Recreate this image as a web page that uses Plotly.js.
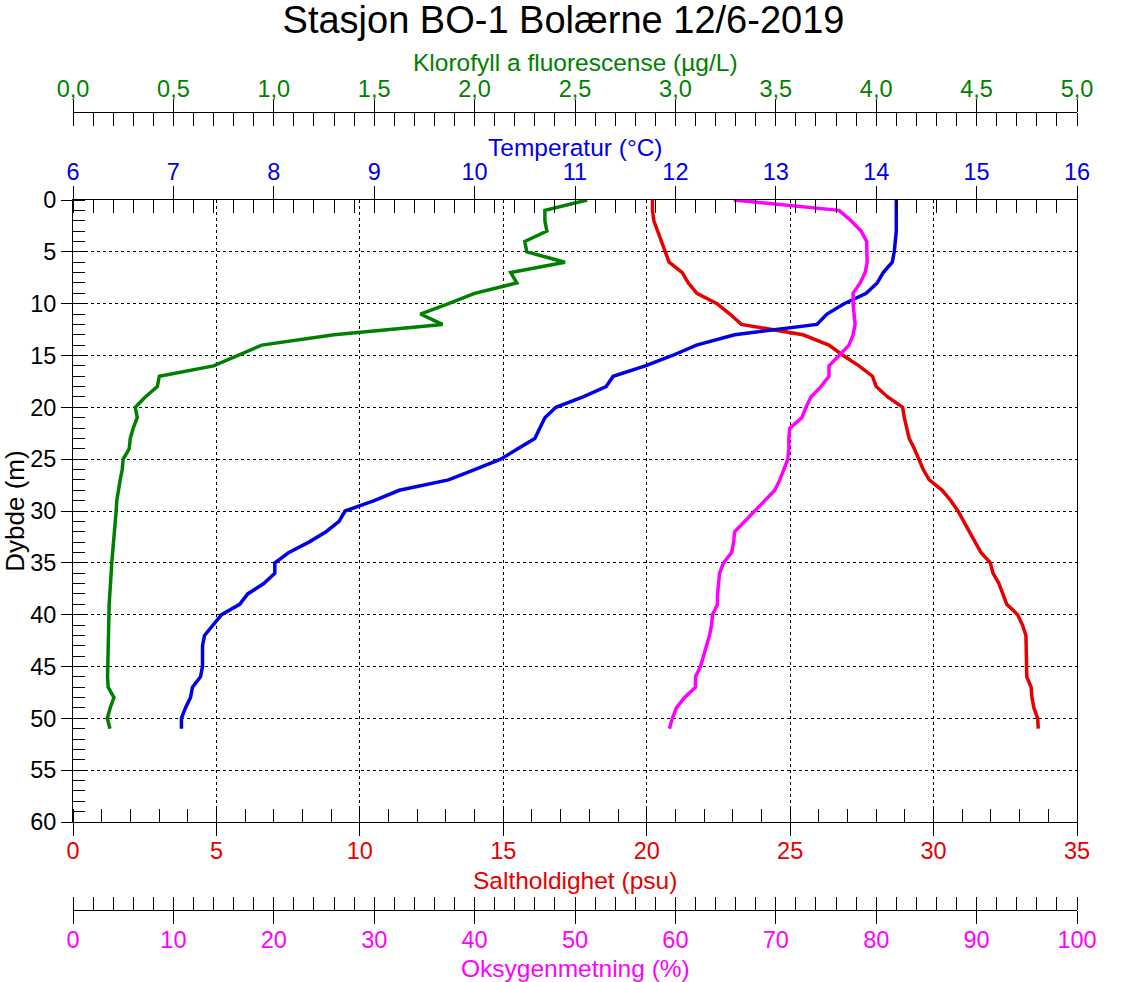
<!DOCTYPE html>
<html>
<head>
<meta charset="utf-8">
<script src="https://cdn.plot.ly/plotly-3.0.1.min.js"></script>
<style>
html,body{margin:0;padding:0;background:#fff;}
#chart{width:1127px;height:982px;}
</style>
</head>
<body>
<div id="chart"></div>
<script>
// Depth (m)
const depth = [0,1,2,3,4,5,6,7,8,9,10,11,12,13,14,15,16,17,18,19,20,21,22,23,24,25,26,27,28,29,30,31,32,33,34,35,36,37,38,39,40,41,42,43,44,45,46,47,48,49,50,51];
// Klorofyll a fluorescens (µg/L)
const klorofyll = [2.56,2.35,2.35,2.36,2.25,2.26,2.45,2.18,2.21,2.00,1.87,1.73,1.84,1.30,0.94,0.82,0.70,0.43,0.42,0.36,0.31,0.32,0.30,0.285,0.28,0.25,0.245,0.235,0.225,0.218,0.215,0.21,0.205,0.20,0.196,0.193,0.19,0.186,0.183,0.18,0.179,0.178,0.176,0.174,0.172,0.171,0.172,0.175,0.204,0.185,0.171,0.184];
// Temperatur (°C)
const temperatur = [14.20,14.20,14.20,14.20,14.19,14.18,14.16,14.07,14.01,13.90,13.68,13.51,13.41,12.59,12.21,11.97,11.70,11.38,11.31,11.08,10.81,10.70,10.65,10.60,10.43,10.26,10.00,9.74,9.25,9.00,8.71,8.65,8.52,8.35,8.15,8.01,8.01,7.90,7.74,7.66,7.48,7.40,7.31,7.29,7.29,7.29,7.27,7.19,7.17,7.12,7.08,7.08];
// Saltholdighet (psu)
const saltholdighet = [20.20,20.20,20.25,20.38,20.50,20.62,20.78,21.24,21.45,21.75,22.45,22.90,23.30,25.45,26.35,26.85,27.40,27.87,28.00,28.40,28.92,28.98,29.05,29.15,29.33,29.50,29.64,29.85,30.30,30.60,30.85,31.05,31.25,31.45,31.65,31.98,32.07,32.28,32.42,32.55,32.93,33.10,33.22,33.22,33.22,33.22,33.25,33.40,33.43,33.50,33.63,33.65];
// Oksygenmetning (%)
const oksygen = [65.8,76.3,77.5,78.5,79.05,79.1,79.1,78.9,78.4,77.7,77.7,77.8,77.9,77.7,77.3,76.3,75.3,75.3,74.5,73.5,73.0,72.6,71.4,71.3,71.3,71.2,70.8,70.4,69.9,68.9,67.9,66.9,65.9,65.8,65.6,64.8,64.4,64.3,64.2,64.2,63.7,63.6,63.4,63.1,62.8,62.5,62.0,62.0,60.9,60.1,59.7,59.4];

// Axis titles
const titles = {
  klorofyll: 'Klorofyll a fluorescense (µg/L)',
  temperatur: 'Temperatur (°C)',
  saltholdighet: 'Saltholdighet (psu)',
  oksygen: 'Oksygenmetning (%)',
  dybde: 'Dybde (m)'
};

const GREEN = '#008000', BLUE = '#0000e6', RED = '#e60000', MAG = '#ff00ff';
const FONT = '"Liberation Sans", Arial, sans-serif';
const TICKSZ = 23.5, TITLESZ = 24.5;

const H = 982, mt = 40, mb = 40;
const ph = H - mt - mb;
const yPix = p => (H - mb - p) / ph; // pixel row -> paper fraction

const traces = [
  {x: klorofyll, y: depth, xaxis: 'x3', yaxis: 'y', mode: 'lines', line: {color: GREEN, width: 3.5}, name: 'Klorofyll'},
  {x: temperatur, y: depth, xaxis: 'x2', yaxis: 'y', mode: 'lines', line: {color: BLUE, width: 3.5}, name: 'Temperatur'},
  {x: saltholdighet, y: depth, xaxis: 'x', yaxis: 'y', mode: 'lines', line: {color: RED, width: 3.5}, name: 'Saltholdighet'},
  {x: oksygen, y: depth, xaxis: 'x4', yaxis: 'y', mode: 'lines', line: {color: MAG, width: 3.5}, name: 'Oksygen'},
  {x: [], y: [], xaxis: 'x5', yaxis: 'y', mode: 'lines', hoverinfo: 'skip'},
  {x: [], y: [], xaxis: 'x6', yaxis: 'y', mode: 'lines', hoverinfo: 'skip'},
  {x: [], y: [], xaxis: 'x7', yaxis: 'y', mode: 'lines', hoverinfo: 'skip'}
];

const baseAx = {
  showline: true, linecolor: 'black', linewidth: 1,
  ticks: 'outside', ticklen: 13, tickwidth: 1, tickcolor: 'black',
  showgrid: false, zeroline: false, fixedrange: true
};

const ann = (text, color, py) => ({
  text: text, xref: 'paper', yref: 'paper', x: 0.5, y: yPix(py),
  xanchor: 'center', yanchor: 'middle', showarrow: false, borderpad: 0,
  font: {family: FONT, size: TITLESZ, color: color}
});

const layout = {
  width: 1127, height: 982,
  margin: {l: 73, r: 50, t: mt, b: mb},
  paper_bgcolor: 'white', plot_bgcolor: 'white',
  showlegend: false,
  separators: ',.',
  font: {family: FONT, size: TICKSZ, color: 'black'},
  title: {text: 'Stasjon BO-1 Bolærne 12/6-2019', font: {family: FONT, size: 38, color: 'black'},
          x: 0.5, xanchor: 'center', y: 1 - 20/H, yanchor: 'middle', yref: 'container'},
  annotations: [
    ann(titles.klorofyll, GREEN, 62),
    ann(titles.temperatur, BLUE, 147),
    ann(titles.saltholdighet, RED, 880),
    ann(titles.oksygen, MAG, 968)
  ],
  yaxis: Object.assign({}, baseAx, {
    domain: [yPix(822), yPix(200)],
    range: [60, 0], dtick: 5, tick0: 0, ticklen: 11,
    mirror: true,
    showgrid: true, gridcolor: 'black', gridwidth: 1, griddash: '3px,3px',
    minor: {dtick: 1, tick0: 0, ticks: 'inside', ticklen: 12, tickcolor: 'black', tickwidth: 1, showgrid: false},
    tickfont: {family: FONT, size: TICKSZ, color: 'black'},
    title: {text: titles.dybde, font: {family: FONT, size: 26, color: 'black'}, standoff: 4}
  }),
  xaxis: Object.assign({}, baseAx, {
    domain: [0, 1], range: [0, 35], dtick: 5, tick0: 0, side: 'bottom', anchor: 'y',
    showgrid: true, gridcolor: 'black', gridwidth: 1, griddash: '3px,3px',
    minor: {dtick: 1, tick0: 0, ticks: 'inside', ticklen: 13, tickcolor: 'black', tickwidth: 1, showgrid: false},
    tickfont: {family: FONT, size: TICKSZ, color: RED}, ticklabelstandoff: -5
  }),
  xaxis2: Object.assign({}, baseAx, {
    overlaying: 'x', anchor: 'y', side: 'top', range: [6, 16], dtick: 1, tick0: 6,
    minor: {dtick: 0.2, tick0: 6, ticks: 'inside', ticklen: 13, tickcolor: 'black', tickwidth: 1, showgrid: false},
    tickfont: {family: FONT, size: TICKSZ, color: BLUE}, ticklabelstandoff: -3
  }),
  xaxis3: Object.assign({}, baseAx, {
    overlaying: 'x', anchor: 'free', position: yPix(112), side: 'top', range: [0, 5], dtick: 0.5, tick0: 0,
    tickformat: '.1f', ticklen: 12,
    minor: {dtick: 0.1, tick0: 0, ticks: 'inside', ticklen: 13, tickcolor: 'black', tickwidth: 1, showgrid: false},
    tickfont: {family: FONT, size: TICKSZ, color: GREEN}, ticklabelstandoff: -6
  }),
  xaxis4: Object.assign({}, baseAx, {
    overlaying: 'x', anchor: 'free', position: yPix(910), side: 'bottom', range: [0, 100], dtick: 10, tick0: 0,
    minor: {dtick: 2, tick0: 0, ticks: 'inside', ticklen: 13, tickcolor: 'black', tickwidth: 1, showgrid: false},
    tickfont: {family: FONT, size: TICKSZ, color: MAG}, ticklabelstandoff: -4
  }),
  // inner halves of the crossing major ticks
  xaxis5: Object.assign({}, baseAx, {
    overlaying: 'x', anchor: 'y', side: 'top', range: [6, 16], dtick: 1, tick0: 6,
    ticks: 'inside', showline: false, showticklabels: false
  }),
  xaxis6: Object.assign({}, baseAx, {
    overlaying: 'x', anchor: 'free', position: yPix(112), side: 'top', range: [0, 5], dtick: 0.5, tick0: 0,
    ticks: 'inside', showline: false, showticklabels: false
  }),
  xaxis7: Object.assign({}, baseAx, {
    overlaying: 'x', anchor: 'free', position: yPix(910), side: 'bottom', range: [0, 100], dtick: 10, tick0: 0,
    ticks: 'inside', showline: false, showticklabels: false
  })
};

Plotly.newPlot('chart', traces, layout, {staticPlot: true, displayModeBar: false});
</script>
</body>
</html>
